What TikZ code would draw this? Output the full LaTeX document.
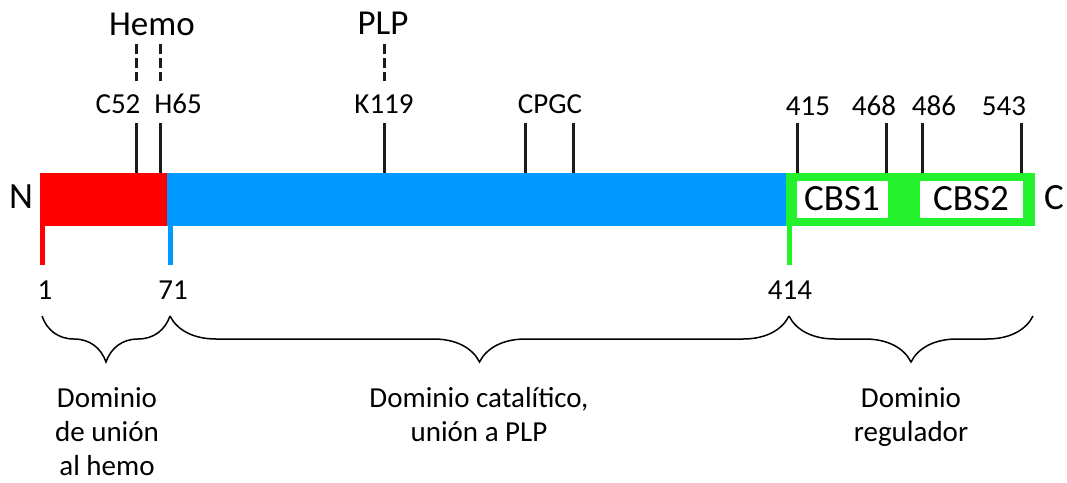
\documentclass[tikz,border=0pt]{standalone}
\usepackage{fontspec}
\setmainfont{Carlito}
\usetikzlibrary{decorations.pathreplacing}

\definecolor{hemored}{RGB}{255,0,0}
\definecolor{catblue}{RGB}{0,153,255}
\definecolor{reggreen}{RGB}{34,241,44}
\definecolor{tickdark}{RGB}{30,26,22}

\begin{document}
\begin{tikzpicture}[x=1pt,y=-1pt,line width=3pt,
  lbl/.style={inner sep=0pt,anchor=base,font=\fontsize{29}{35}\selectfont},
  biglbl/.style={lbl,font=\fontsize{35}{40}\selectfont},
  endlbl/.style={lbl,font=\fontsize{37}{40}\selectfont},
  site/.style={draw=tickdark,line width=3pt},
  bond/.style={draw=tickdark,line width=3pt,dash pattern=on 10pt off 4pt},
  bound/.style={line width=5pt},
  dombrace/.style={decorate,decoration={brace,amplitude=46pt,mirror},
    line width=1.5pt},
  domtext/.style={inner sep=0pt,anchor=north,align=center,
    font=\fontsize{29}{34}\selectfont}]

  \useasboundingbox (0,0) rectangle (1067,482);

  \def\bartop{173} \def\barbot{226}
  % --- the three domains of the bar ---
  \fill[hemored]  (40,\bartop)  rectangle (167,\barbot);
  \fill[catblue]  (167,\bartop) rectangle (786,\barbot);
  \fill[reggreen] (786,\bartop) rectangle (1035,\barbot);
  \fill[white] (797,181) rectangle (888,218);
  \fill[white] (920,181) rectangle (1023,218);
  \node[endlbl] (cbs1) at (842,210) {CBS1};
  \node[endlbl] (cbs2) at (971,210) {CBS2};

  % --- ends of the chain ---
  \node[endlbl] (nterm) at (21,208) {N};
  \node[endlbl] (cterm) at (1054,209) {C};

  % --- residue ticks above the bar ---
  \foreach \nm/\xt in {c52/136,h65/160,k119/384,cp/525,gc/573,
                       r415/797,r468/886,r486/922,r543/1021} {
    \coordinate (\nm-bot) at (\xt,\bartop);
    \coordinate (\nm-top) at (\xt,123);
    \draw[site] (\nm-bot) -- (\nm-top);
  }
  \foreach \nm/\xl/\yl/\txt in {lc52/118/113/C52, lh65/178/113/H65,
                                lk119/384/113/K119, lcpgc/550/113/CPGC,
                                l415/808/115/415, l468/874/115/468,
                                l486/934/115/486, l543/1004/115/543}
    \node[lbl] (\nm) at (\xl,\yl) {\txt};

  % --- cofactor links (dashed) ---
  \node[biglbl] (hemo) at (152,35) {Hemo};
  \node[biglbl] (plp) at (383,34) {PLP};
  \foreach \nm/\xt in {c52/136,h65/160,k119/384} {
    \coordinate (\nm-lo) at (\xt,81);
    \coordinate (\nm-hi) at (\xt,44);
    \draw[bond] (\nm-hi) -- (\nm-lo);
  }

  % --- domain boundaries below the bar ---
  \foreach \nm/\xb/\col in {b1/42.5/hemored, b71/170/catblue,
                            b414/789/reggreen} {
    \coordinate (\nm-top) at (\xb,\barbot);
    \coordinate (\nm-bot) at (\xb,265);
    \draw[bound,\col] (\nm-top) -- (\nm-bot);
  }
  \node[lbl] (n1) at (45,299) {1};
  \node[lbl] (n71) at (173,299) {71};
  \node[lbl] (n414) at (790,299) {414};

  % --- braces and domain names ---
  \coordinate (br0) at (42,316);
  \coordinate (br1) at (170,316);
  \coordinate (br2) at (789,316);
  \coordinate (br3) at (1033,316);
  \draw[dombrace] (br0) -- (br1);
  \draw[dombrace] (br1) -- (br2);
  \draw[dombrace] (br2) -- (br3);

  \node[domtext] (dhemo) at (107,386) {Dominio\\de unión\\al hemo};
  \node[domtext] (dcat) at (479,386) {Dominio catalítico,\\unión a PLP};
  \node[domtext] (dreg) at (911,386) {Dominio\\regulador};

\end{tikzpicture}
\end{document}
